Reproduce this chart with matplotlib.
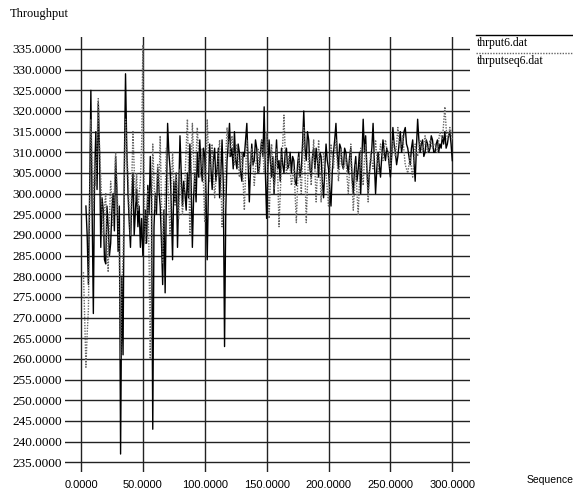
import matplotlib
matplotlib.use("Agg")
import matplotlib.pyplot as plt
from matplotlib.lines import Line2D

# thrput6.dat (solid), sequence 4..300
thr_a = [297, 290, 278, 300, 325, 296, 271, 304, 315, 301,
         322, 310, 287, 299, 296, 284, 283, 297, 292, 285,
         288, 296, 300, 291, 309, 301, 286, 297, 237, 280,
         261, 306, 329, 311, 300, 293, 287, 298, 305, 290,
         296, 301, 292, 297, 287, 294, 285, 290, 296, 288,
         302, 295, 309, 298, 243, 292, 300, 295, 306, 301,
         297, 289, 278, 296, 276, 299, 317, 310, 306, 297,
         284, 303, 298, 305, 287, 300, 314, 305, 297, 303,
         300, 296, 305, 299, 312, 303, 287, 299, 305, 298,
         310, 304, 313, 307, 303, 311, 309, 300, 284, 302,
         312, 306, 301, 308, 311, 303, 306, 311, 299, 305,
         313, 302, 263, 296, 308, 312, 317, 309, 311, 306,
         315, 308, 306, 312, 310, 305, 303, 310, 309, 313,
         317, 308, 298, 306, 312, 307, 308, 313, 311, 305,
         306, 310, 313, 309, 321, 305, 294, 306, 313, 308,
         304, 309, 300, 307, 313, 306, 308, 303, 311, 307,
         305, 310, 311, 306, 307, 310, 305, 309, 308, 303,
         302, 307, 310, 304, 306, 312, 320, 311, 308, 315,
         313, 306, 304, 309, 311, 306, 311, 308, 304, 310,
         309, 303, 299, 306, 312, 308, 306, 301, 297, 305,
         310, 313, 317, 310, 306, 312, 311, 307, 306, 311,
         310, 307, 305, 309, 311, 304, 300, 306, 309, 303,
         306, 310, 300, 309, 318, 310, 314, 306, 300, 305,
         308, 311, 317, 308, 300, 306, 310, 307, 304, 309,
         313, 310, 308, 311, 310, 307, 304, 309, 316, 312,
         310, 307, 309, 312, 315, 310, 312, 315, 316, 312,
         311, 309, 307, 311, 313, 308, 303, 311, 318, 313,
         310, 312, 313, 309, 310, 313, 312, 310, 311, 314,
         313, 310, 310, 312, 313, 310, 312, 311, 314, 312,
         315, 311, 312, 314, 315, 312, 308]
seq_a = list(range(4, 4 + len(thr_a)))

# thrputseq6.dat (dotted), sequence 2..300
thr_b = [281, 270, 258, 266, 272, 295, 318, 306, 296, 309,
         302, 312, 323, 311, 304, 296, 290, 297, 300, 288,
         281, 294, 303, 298, 292, 301, 310, 302, 295, 284,
         260, 277, 285, 300, 318, 310, 305, 296, 290, 303,
         315, 306, 298, 305, 296, 300, 303, 312, 336, 302,
         288, 295, 301, 285, 260, 290, 312, 303, 296, 301,
         307, 300, 314, 298, 283, 293, 300, 311, 305, 297,
         290, 301, 310, 303, 297, 305, 299, 294, 306, 300,
         295, 299, 303, 311, 318, 305, 290, 306, 317, 309,
         300, 309, 316, 310, 304, 307, 311, 302, 293, 306,
         318, 310, 303, 308, 312, 305, 299, 303, 305, 309,
         313, 304, 292, 297, 300, 309, 316, 312, 309, 311,
         314, 310, 307, 309, 312, 308, 304, 307, 310, 303,
         296, 305, 313, 309, 306, 308, 311, 307, 302, 306,
         309, 311, 305, 309, 313, 310, 305, 309, 315, 307,
         294, 303, 312, 306, 301, 305, 311, 304, 292, 300,
         307, 312, 319, 310, 305, 307, 309, 306, 302, 304,
         306, 300, 293, 302, 309, 305, 300, 308, 316, 305,
         293, 302, 310, 307, 302, 308, 313, 306, 298, 305,
         313, 306, 298, 304, 310, 307, 305, 301, 297, 304,
         312, 309, 306, 310, 313, 308, 303, 307, 311, 308,
         306, 307, 309, 304, 300, 306, 312, 303, 296, 301,
         307, 300, 295, 303, 311, 306, 302, 308, 312, 305,
         298, 304, 310, 308, 306, 310, 313, 309, 305, 309,
         312, 310, 308, 311, 313, 311, 310, 308, 306, 310,
         313, 311, 309, 312, 316, 313, 311, 312, 314, 310,
         307, 306, 305, 307, 309, 306, 304, 308, 312, 310,
         309, 311, 313, 311, 310, 312, 314, 312, 310, 311,
         313, 312, 311, 312, 312, 311, 310, 313, 315, 314,
         313, 317, 321, 316, 313, 314, 316, 315, 313]
seq_b = list(range(2, 2 + len(thr_b)))

x_ticks = [0, 50, 100, 150, 200, 250, 300]
y_ticks = list(range(235, 340, 5))

fig = plt.figure(figsize=(5.73, 4.92), dpi=100)
ax = fig.add_axes([65 / 573, 1 - 472 / 492, 405 / 573, 435 / 492])

ax.plot(seq_a, thr_a, color="black", linewidth=1.0)
ax.plot(seq_b, thr_b, color="#666666", linewidth=1.0, linestyle=(0, (1, 1)))

ax.set_xlim(-12.9, 314.3)
ax.set_ylim(232.65, 337.9)
ax.set_xticks(x_ticks)
ax.set_yticks(y_ticks)
ax.set_xticklabels([f"{v:.4f}" for v in x_ticks], fontsize=8, family="Liberation Sans")
ax.set_yticklabels([f"{v:.4f}" for v in y_ticks], fontsize=9.5, family="Liberation Serif")
ax.tick_params(length=0, axis="y", pad=2)
ax.tick_params(length=0, axis="x", pad=6)
ax.grid(True, color="#222222", linewidth=1.0)
ax.set_axisbelow(True)
for s in ax.spines.values():
    s.set_visible(False)

fig.text(10 / 573, 1 - 14 / 492, "Throughput", fontsize=9, family="Liberation Serif", va="center")
fig.text(527 / 573, 1 - 480 / 492, "Sequence", fontsize=7.5, family="Liberation Sans", va="center")

# legend, xgraph style: sample line above each name
fig.add_artist(Line2D([476 / 573, 1], [1 - 35 / 492] * 2, color="black", linewidth=1.0))
fig.text(477 / 573, 1 - 43 / 492, "thrput6.dat", fontsize=8.5, family="Liberation Serif", va="center")
fig.add_artist(Line2D([476 / 573, 1], [1 - 53 / 492] * 2, color="#666666", linewidth=1.0,
                      linestyle=(0, (1, 1))))
fig.text(477 / 573, 1 - 61 / 492, "thrputseq6.dat", fontsize=8.5, family="Liberation Serif", va="center")

fig.savefig("out.png", dpi=100)
